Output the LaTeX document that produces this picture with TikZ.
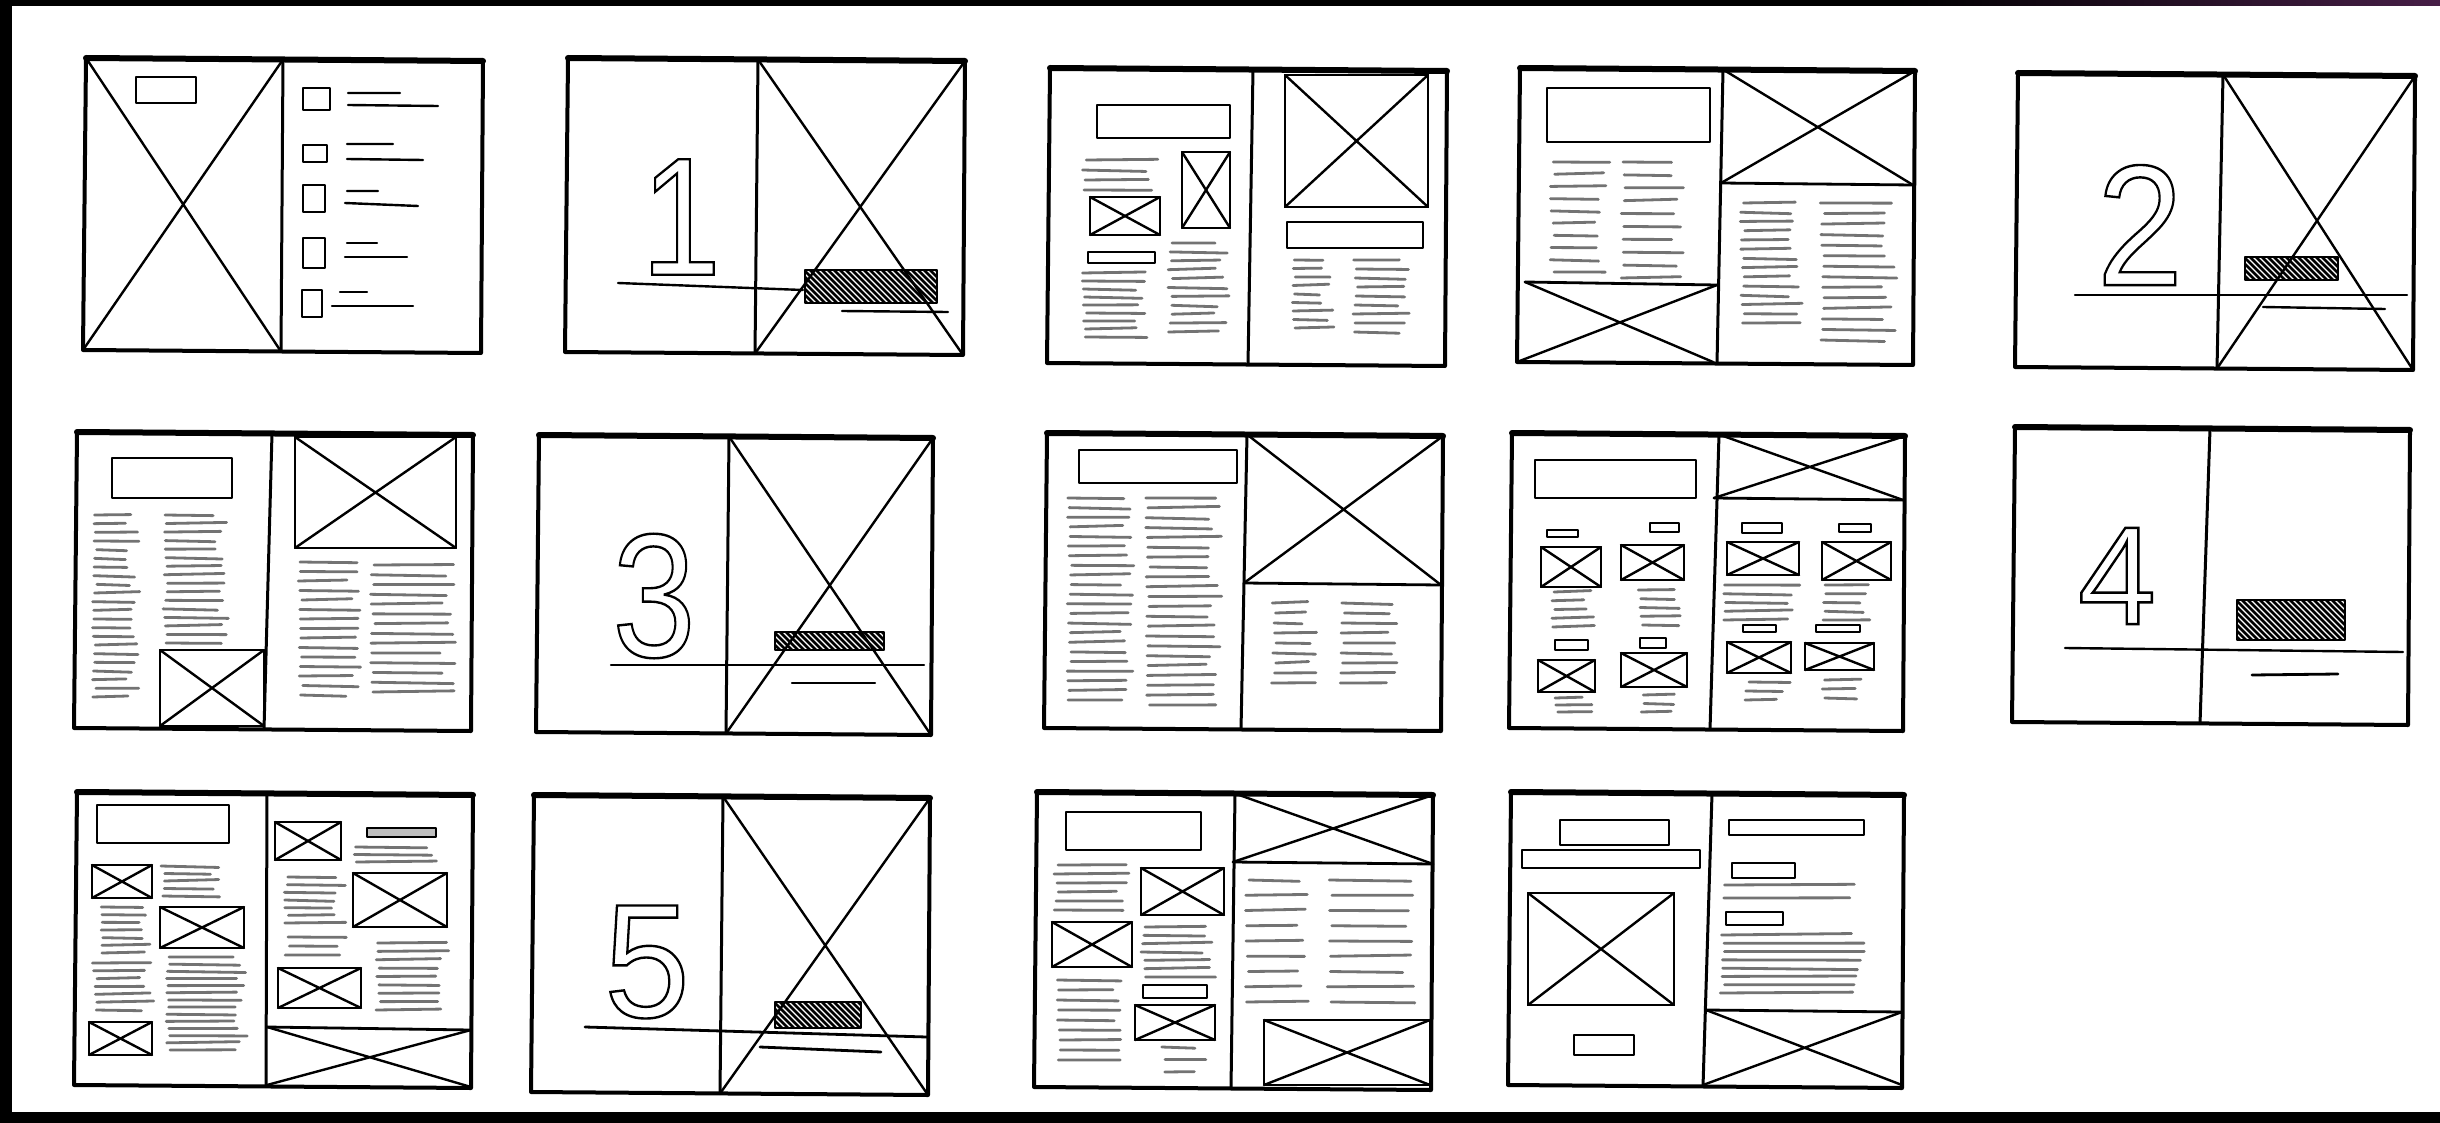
\documentclass[tikz,border=0pt]{standalone}
\usepackage{fontspec}
\setmainfont{Liberation Sans}
\tikzset{
  frame/.style={line width=4pt, line join=round, line cap=round},
  topline/.style={line width=6pt, line cap=round},
  spine/.style={line width=3pt, line cap=round},
  xline/.style={line width=2.4pt, line cap=round},
  boxline/.style={line width=2.8pt, line join=round, line cap=round},
  thinline/.style={line width=2.4pt, line cap=round},
  txtline/.style={line width=2.8pt, draw=black!55, line cap=round},
  hatchline/.style={line width=2.6pt},
  digit/.style={inner sep=0pt, outer sep=0pt},
}
\newcommand\outl[1]{\special{pdf:literal direct 1 Tr 2.4 w}#1\special{pdf:literal direct 0 Tr}}
\newcommand\spread[6]{%
  \coordinate (pTL) at (#1+3,#2);
  \coordinate (pTR) at (#3,#2+3);
  \coordinate (pBR) at (#3-2,#4+3);
  \coordinate (pBL) at (#1,#4);
  \coordinate (pST) at (#5,#2+1.5);
  \coordinate (pSB) at (#6,#4+1.5);
  \draw[frame] (pTL) -- (pTR) -- (pBR) -- (pBL) -- cycle;
  \draw[topline] (pTL) -- (pTR);
  \draw[spine] (pST) -- (pSB);
}
\newcommand\rightX{\draw[xline] (pST) -- (pBR) (pTR) -- (pSB);}
\newcommand\leftX{\draw[xline] (pTL) -- (pSB) (pST) -- (pBL);}
\newcommand\imgbox[4]{\draw[boxline] (#1,#2) rectangle (#3,#4); \draw[xline] (#1,#2) -- (#3,#4) (#3,#2) -- (#1,#4);}
\newcommand\plainbox[4]{\draw[boxline] (#1,#2) rectangle (#3,#4);}
\newcommand\txtblock[5]{%
  \foreach \k in {1,...,#5}{%
    \pgfmathsetmacro\mytlY{#3+(\k-1)*(#4-#3)/max(#5-1,1)}%
    \pgfmathsetmacro\mytlA{#1+5*rnd}%
    \pgfmathsetmacro\mytlB{#2-16*rnd}%
    \draw[txtline] (\mytlA,\mytlY) -- (\mytlB,\mytlY+1.5*rand);
  }}
\newcommand\hatchbox[4]{%
  \begin{scope}
    \clip (#1,#2) rectangle (#3,#4);
    \foreach \i in {-60,-54,...,200}{\draw[hatchline] (#1+\i,#2-5) -- ++(70,70);}
  \end{scope}
  \draw[boxline] (#1,#2) rectangle (#3,#4);}
\begin{document}
\begin{tikzpicture}[x=1pt,y=-1pt]
\pgfmathsetseed{7}
\useasboundingbox (0,0) rectangle (2440,1123);
\fill[white] (0,0) rectangle (2440,1123);
% dark edges of the photo
\fill[black] (0,0) rectangle (2440,6);
\shade[left color=black, right color={rgb,255:red,70;green,30;blue,70}] (1900,0) rectangle (2440,6);
\fill[black] (0,0) rectangle (12,1123);
\fill[black] (0,1112) rectangle (2440,1123);

% ===== Row 1 =====
% 1
\spread{83}{58}{483}{350}{283}{281}
\leftX
\plainbox{136}{77}{196}{103}
\plainbox{303}{88}{330}{110}
\plainbox{303}{145}{327}{162}
\plainbox{303}{185}{325}{212}
\plainbox{303}{238}{325}{268}
\plainbox{302}{290}{322}{317}
\draw[thinline] (348,93) -- (400,93) (348,105) -- (438,106);
\draw[thinline] (347,144) -- (393,144) (347,159) -- (423,160);
\draw[thinline] (347,191) -- (378,191) (345,203) -- (418,206);
\draw[thinline] (347,243) -- (377,243) (345,257) -- (407,257);
\draw[thinline] (340,292) -- (367,292) (332,306) -- (413,306);

% 2
\spread{565}{58}{965}{352}{758}{755}
\rightX
\node[digit, xscale=0.85] (d1) at (681,217) {\fontsize{168}{168}\selectfont\outl{1}};
\draw[thinline] (618,283) -- (803,290);
\hatchbox{805}{270}{937}{303}
\draw[thinline] (842,311) -- (948,312);

% 3
\spread{1047}{68}{1447}{363}{1253}{1248}
\plainbox{1097}{105}{1230}{138}
\txtblock{1082}{1160}{160}{190}{4}
\imgbox{1090}{197}{1160}{235}
\imgbox{1182}{152}{1230}{228}
\plainbox{1088}{252}{1155}{263}
\txtblock{1082}{1148}{273}{337}{9}
\txtblock{1168}{1230}{243}{332}{11}
\imgbox{1285}{75}{1428}{207}
\plainbox{1287}{222}{1423}{248}
\txtblock{1292}{1335}{260}{328}{9}
\txtblock{1353}{1410}{260}{332}{9}

% 4
\spread{1517}{68}{1915}{362}{1723}{1717}
\plainbox{1547}{88}{1710}{142}
\txtblock{1550}{1610}{162}{272}{10}
\txtblock{1620}{1687}{162}{278}{10}
\draw[boxline] (1525,282) -- (1717,285);
\draw[xline] (1525,282) -- (1713,362) (1717,285) -- (1517,362);
\draw[boxline] (1721,183) -- (1913,185);
\draw[xline] (pST) -- (1913,185) (pTR) -- (1721,183);
\txtblock{1740}{1803}{203}{323}{14}
\txtblock{1820}{1897}{203}{340}{14}

% 5
\spread{2015}{73}{2415}{367}{2223}{2217}
\rightX
\node[digit, xscale=0.9] (d2) at (2140,225) {\fontsize{172}{172}\selectfont\outl{2}};
\draw[thinline] (2075,295) -- (2407,295);
\hatchbox{2245}{257}{2338}{280}
\draw[thinline] (2263,307) -- (2385,309);

% ===== Row 2 =====
% 6
\spread{74}{432}{473}{728}{272}{264}
\plainbox{112}{458}{232}{498}
\txtblock{92}{140}{515}{697}{22}
\txtblock{163}{229}{515}{643}{16}
\imgbox{160}{650}{264}{726}
\imgbox{295}{437}{456}{548}
\txtblock{298}{361}{562}{695}{15}
\txtblock{370}{456}{565}{692}{14}

% 7
\spread{536}{435}{933}{732}{729}{726}
\rightX
\node[digit, xscale=0.85] (d3) at (654,596) {\fontsize{176}{176}\selectfont\outl{3}};
\draw[thinline] (611,665) -- (924,665);
\hatchbox{775}{632}{884}{650}
\draw[thinline] (792,683) -- (875,683);

% 8
\spread{1044}{433}{1443}{728}{1247}{1241}
\plainbox{1079}{450}{1237}{483}
\txtblock{1067}{1136}{498}{700}{22}
\txtblock{1145}{1222}{498}{705}{22}
\draw[boxline] (1244,583) -- (1441,585);
\draw[xline] (pST) -- (1441,585) (pTR) -- (1244,583);
\txtblock{1271}{1317}{603}{683}{9}
\txtblock{1340}{1400}{603}{683}{9}

% 9
\spread{1509}{433}{1905}{728}{1719}{1710}
\plainbox{1535}{460}{1696}{498}
\plainbox{1547}{530}{1578}{537}
\plainbox{1650}{523}{1679}{532}
\imgbox{1541}{547}{1601}{587}
\imgbox{1621}{545}{1684}{580}
\txtblock{1550}{1595}{592}{627}{5}
\txtblock{1638}{1684}{590}{625}{5}
\plainbox{1555}{640}{1588}{650}
\plainbox{1640}{638}{1666}{648}
\imgbox{1538}{660}{1595}{692}
\imgbox{1621}{653}{1687}{687}
\txtblock{1553}{1592}{698}{712}{3}
\txtblock{1640}{1684}{695}{712}{3}
\draw[boxline] (1714,498) -- (1903,500);
\draw[xline] (pST) -- (1903,500) (pTR) -- (1714,498);
\plainbox{1742}{523}{1782}{533}
\plainbox{1839}{524}{1871}{532}
\imgbox{1727}{542}{1799}{575}
\imgbox{1822}{542}{1891}{580}
\txtblock{1722}{1802}{585}{620}{5}
\txtblock{1822}{1872}{585}{620}{5}
\plainbox{1743}{625}{1776}{632}
\plainbox{1816}{625}{1860}{632}
\imgbox{1727}{642}{1791}{673}
\imgbox{1805}{643}{1874}{670}
\txtblock{1745}{1792}{682}{700}{3}
\txtblock{1822}{1868}{680}{698}{3}

% 10
\spread{2012}{427}{2410}{722}{2210}{2200}
\node[digit] (d4) at (2117,576) {\fontsize{140}{140}\selectfont\outl{4}};
\draw[thinline] (2065,648) -- (2403,652);
\hatchbox{2237}{600}{2345}{640}
\draw[boxline] (2252,675) -- (2338,674);

% ===== Row 3 =====
% 11
\spread{74}{792}{473}{1085}{267}{266}
\plainbox{97}{805}{229}{843}
\imgbox{92}{865}{152}{898}
\txtblock{160}{224}{866}{896}{5}
\txtblock{100}{155}{907}{953}{7}
\imgbox{160}{907}{244}{948}
\txtblock{92}{155}{963}{1010}{7}
\txtblock{166}{249}{957}{1050}{14}
\imgbox{89}{1022}{152}{1055}
\imgbox{275}{822}{341}{860}
\draw[boxline, fill=black!25] (367,828) rectangle (436,837);
\txtblock{353}{439}{847}{862}{3}
\txtblock{284}{347}{877}{923}{7}
\imgbox{353}{873}{447}{927}
\txtblock{285}{347}{937}{955}{3}
\txtblock{376}{450}{943}{1010}{9}
\imgbox{278}{968}{361}{1008}
\draw[boxline] (267,1027) -- (471,1030);
\draw[xline] (267,1027) -- (471,1087) (471,1030) -- (267,1085);

% 12
\spread{531}{795}{930}{1092}{723}{720}
\rightX
\node[digit, xscale=0.95] (d5) at (647,962) {\fontsize{162}{162}\selectfont\outl{5}};
\draw[boxline] (585,1027) -- (927,1037);
\hatchbox{775}{1002}{861}{1028}
\draw[boxline] (760,1047) -- (881,1052);

% 13
\spread{1034}{792}{1433}{1087}{1235}{1231}
\plainbox{1066}{812}{1201}{850}
\txtblock{1054}{1132}{865}{910}{6}
\imgbox{1141}{868}{1224}{915}
\imgbox{1052}{922}{1132}{967}
\txtblock{1141}{1218}{927}{977}{7}
\txtblock{1057}{1123}{980}{1060}{9}
\plainbox{1143}{985}{1207}{998}
\imgbox{1135}{1005}{1215}{1040}
\txtblock{1160}{1210}{1047}{1072}{3}
\draw[boxline] (1233,862) -- (1433,864);
\draw[xline] (pST) -- (1433,864) (pTR) -- (1233,862);
\txtblock{1244}{1313}{880}{1002}{9}
\txtblock{1327}{1416}{880}{1002}{9}
\imgbox{1264}{1020}{1430}{1085}

% 14
\spread{1508}{792}{1904}{1085}{1712}{1703}
\plainbox{1560}{820}{1669}{845}
\plainbox{1522}{850}{1700}{868}
\imgbox{1528}{893}{1674}{1005}
\plainbox{1574}{1035}{1634}{1055}
\plainbox{1729}{820}{1864}{835}
\plainbox{1732}{863}{1795}{878}
\txtblock{1720}{1862}{885}{898}{2}
\plainbox{1726}{912}{1783}{925}
\txtblock{1720}{1867}{935}{993}{8}
\draw[boxline] (1706,1010) -- (1902,1012);
\draw[xline] (1706,1010) -- (1902,1085) (1902,1012) -- (1703,1085);
\end{tikzpicture}
\end{document}
